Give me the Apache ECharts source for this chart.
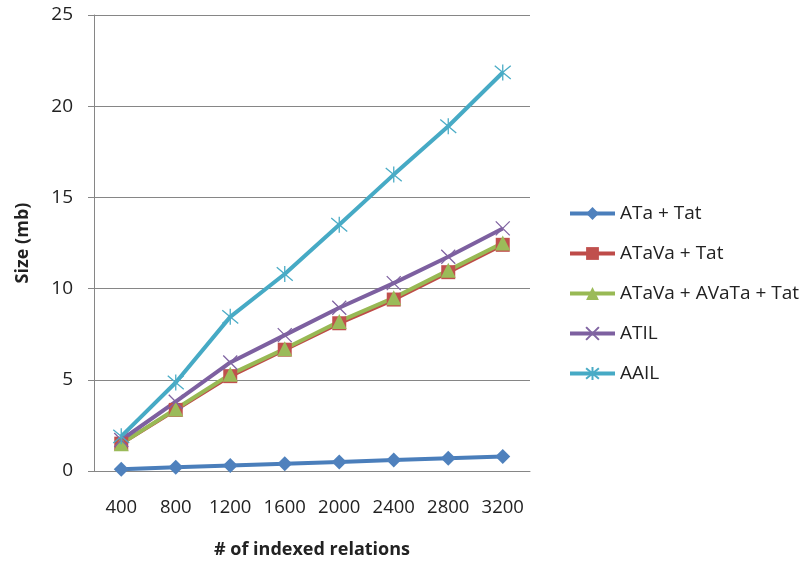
<!DOCTYPE html>
<html>
<head>
<meta charset="utf-8">
<script src="https://cdn.jsdelivr.net/npm/echarts@6/dist/echarts.min.js"></script>
<style>
  html, body { margin: 0; padding: 0; background: #fff; }
  #chart { width: 802px; height: 565px; }
</style>
</head>
<body>
<div id="chart"></div>
<script>
// Index size by number of indexed relations
const categories = ['400', '800', '1200', '1600', '2000', '2400', '2800', '3200'];
const ataTat      = [0.1, 0.2, 0.3, 0.4, 0.5, 0.6, 0.7, 0.8];
const atavaTat    = [1.5, 3.35, 5.2, 6.65, 8.1, 9.4, 10.9, 12.4];
const atavaAvata  = [1.5, 3.4, 5.3, 6.7, 8.2, 9.5, 11.0, 12.5];
const atil        = [1.7, 3.8, 5.95, 7.45, 8.95, 10.3, 11.75, 13.3];
const aail        = [1.9, 4.85, 8.45, 10.8, 13.5, 16.25, 18.9, 21.85];
const yTicks = [0, 5, 10, 15, 20, 25];

const FONT = 'Open Sans, Lato, sans-serif';
const crossPath = 'path://M0,0L10,10M10,0L0,10';
const starPath = 'path://M0,0L10,10M10,0L0,10M5,-1L5,11';

function lineSeries(name, data, color, markColor, symbol, size, stroke) {
  const s = {
    name: name,
    type: 'line',
    data: data,
    symbol: symbol,
    symbolSize: size,
    lineStyle: { color: color, width: 4 },
    itemStyle: { color: markColor },
    emphasis: { disabled: true },
    animation: false
  };
  if (stroke) {
    s.itemStyle = { color: 'rgba(0,0,0,0)', borderColor: markColor, borderWidth: 1.3 };
  }
  return s;
}

const chart = echarts.init(document.getElementById('chart'));
chart.setOption({
  backgroundColor: '#ffffff',
  animation: false,
  grid: { left: 94, right: 272, top: 15, bottom: 94, containLabel: false },
  legend: {
    orient: 'vertical',
    left: 563,
    top: 199,
    itemWidth: 45,
    itemHeight: 16,
    itemGap: 21,
    lineStyle: { width: 4 },
    textStyle: { fontFamily: FONT, fontSize: 19, color: '#222' },
    data: ['ATa + Tat', 'ATaVa + Tat', 'ATaVa + AVaTa + Tat', 'ATIL', 'AAIL']
  },
  xAxis: {
    type: 'category',
    data: categories,
    boundaryGap: true,
    name: '# of indexed relations',
    nameLocation: 'middle',
    nameGap: 70,
    nameTextStyle: { fontFamily: FONT, fontSize: 18, fontWeight: 'bold', color: '#222' },
    axisLine: { lineStyle: { color: '#868686', width: 1 } },
    axisTick: { show: false },
    axisLabel: { fontFamily: FONT, fontSize: 18.5, color: '#222', margin: 27, interval: 0 }
  },
  yAxis: {
    type: 'value',
    min: yTicks[0],
    max: yTicks[yTicks.length - 1],
    interval: 5,
    name: 'Size (mb)',
    nameLocation: 'middle',
    nameGap: 62,
    nameRotate: 90,
    nameTextStyle: { fontFamily: FONT, fontSize: 18, fontWeight: 'bold', color: '#222' },
    axisLine: { show: true, lineStyle: { color: '#868686', width: 1 } },
    axisTick: { show: true, length: 6, lineStyle: { color: '#868686' } },
    axisLabel: { fontFamily: FONT, fontSize: 19, color: '#222', margin: 21 },
    splitLine: { lineStyle: { color: '#868686', width: 1 } }
  },
  series: [
    lineSeries('ATa + Tat', ataTat, '#4A7EBB', '#4F81BD', 'diamond', 15),
    lineSeries('ATaVa + Tat', atavaTat, '#BE4B48', '#C0504D', 'rect', 14),
    lineSeries('ATaVa + AVaTa + Tat', atavaAvata, '#98B954', '#9BBB59', 'triangle', 15),
    lineSeries('ATIL', atil, '#7D60A0', '#8064A2', crossPath, 14, true),
    lineSeries('AAIL', aail, '#46AAC5', '#4BACC6', starPath, 16, true)
  ]
});
</script>
</body>
</html>
